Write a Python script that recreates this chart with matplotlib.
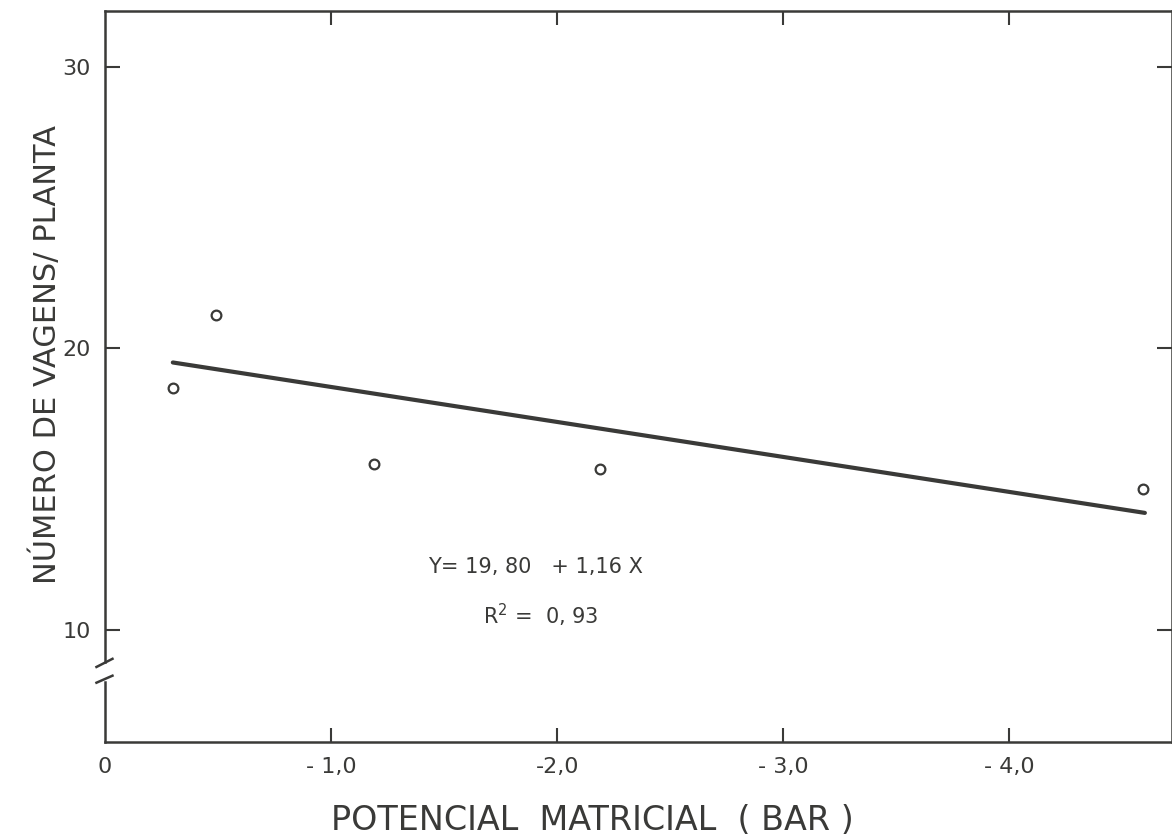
import matplotlib.pyplot as plt

# Observed points (matric potential in bar, pods per plant)
potencial = [-0.3, -0.49, -1.19, -2.19, -4.59]
vagens = [18.6, 21.2, 15.9, 15.7, 15.0]

# Fitted line, as drawn
reta_x = [-0.3, -4.6]
reta_y = [19.5, 14.15]

x_ticks = [0, -1, -2, -3, -4]
x_labels = ["0", "- 1,0", "-2,0", "- 3,0", "- 4,0"]
y_ticks = [10, 20, 30]
y_labels = ["10", "20", "30"]

ink = "#3a3a38"
plt.rcParams['font.family'] = ['DejaVu Sans']

fig = plt.figure(figsize=(11.72, 8.36), dpi=100)
ax = fig.add_axes([0.0896, 0.1124, 0.9104, 0.8744])

ax.plot(reta_x, reta_y, color=ink, lw=3.0, solid_capstyle='round')
ax.plot(potencial, vagens, 'o', ms=7, mfc='white', mec=ink, mew=1.6)

ax.set_xlim(0, -4.72)
ax.set_ylim(6, 32)

# Ticks inward on all four sides
ax.set_xticks(x_ticks)
ax.set_xticklabels(x_labels)
ax.set_yticks(y_ticks)
ax.set_yticklabels(y_labels)
ax.tick_params(axis='x', direction='in', length=10, width=1.5, color=ink,
               labelcolor=ink, labelsize=16, pad=11, top=True)
ax.tick_params(axis='y', direction='in', length=11, width=1.5, color=ink,
               labelcolor=ink, labelsize=16, pad=10, right=True)
ax.xaxis.get_major_ticks()[0].tick1line.set_visible(False)
ax.xaxis.get_major_ticks()[0].tick2line.set_visible(False)

for side in ['top', 'right', 'bottom']:
    ax.spines[side].set_color(ink)
    ax.spines[side].set_linewidth(1.8)

# Left spine with an axis break below 10
ax.spines['left'].set_visible(False)
ytr = ax.get_yaxis_transform()
ax.plot([0, 0], [32, 8.85], color=ink, lw=1.8, transform=ytr, clip_on=False)
ax.plot([0, 0], [8.15, 6], color=ink, lw=1.8, transform=ytr, clip_on=False)
ax.plot([-0.008, 0.007], [8.67, 8.96], color=ink, lw=1.8, transform=ytr, clip_on=False)
ax.plot([-0.008, 0.007], [8.11, 8.36], color=ink, lw=1.8, transform=ytr, clip_on=False)

ax.text(-1.43, 12.24, "Y= 19, 80   + 1,16 X", fontsize=15, color=ink,
        ha='left', va='center')
ax.text(-1.67, 10.5, "R$^{2}$ =  0, 93", fontsize=15, color=ink,
        ha='left', va='center')

fig.text(592 / 1172, 1 - 830 / 836, "POTENCIAL  MATRICIAL  ( BAR )", fontsize=24,
         color=ink, ha='center', va='baseline')
ax.set_ylabel("NÚMERO DE VAGENS/ PLANTA", fontsize=22, color=ink)
ax.yaxis.set_label_coords(-0.04, 0.53)

fig.savefig("out.png", dpi=100)
